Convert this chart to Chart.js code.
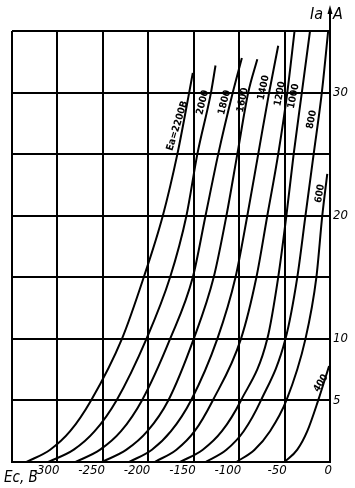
<!DOCTYPE html>
<html>
<head>
<meta charset="utf-8">
<script src="https://cdn.jsdelivr.net/npm/chart.js@4.4.1/dist/chart.umd.min.js"></script>
<style>
  html, body { margin: 0; padding: 0; background: #fff; }
</style>
</head>
<body>
<canvas id="chart" width="355" height="488"></canvas>
<script>
// anode voltage Ea of each curve, В
const anodeVoltages = [2200, 2000, 1800, 1600, 1400, 1200, 1000, 800, 600, 400];

// grid voltage Ec (В) against anode current Ia (А)
const ec2200 = [-334, -308, -286, -263, -229, -205, -184, -168, -155, -151];
const ia2200 = [0, 1, 2.5, 5, 10, 15, 20, 25, 30, 31.6];
const ec2000 = [-310, -282, -259, -235, -202, -176, -158, -146, -131, -126];
const ia2000 = [0, 1, 2.5, 5, 10, 15, 20, 25, 30, 32.2];
const ec1800 = [-280, -253, -230, -207, -176, -151, -137, -123, -107, -97];
const ia1800 = [0, 1, 2.5, 5, 10, 15, 20, 25, 30, 32.8];
const ec1600 = [-251, -224, -201, -178, -150, -128, -114, -102, -90, -80];
const ia1600 = [0, 1, 2.5, 5, 10, 15, 20, 25, 30, 32.7];
const ec1400 = [-221, -196, -175, -153, -124, -104, -91, -79, -67, -57];
const ia1400 = [0, 1, 2.5, 5, 10, 15, 20, 25, 30, 33.8];
const ec1200 = [-193, -169, -149, -129, -98, -81, -69, -57, -47, -39];
const ia1200 = [0, 1, 2.5, 5, 10, 15, 20, 25, 30, 35];
const ec1000 = [-165, -140, -119, -98, -69, -57, -48, -40, -31, -22];
const ia1000 = [0, 1, 2.5, 5, 10, 15, 20, 25, 30, 35];
const ec800 = [-137, -114, -95, -76, -49, -36, -27, -18, -9, -2];
const ia800 = [0, 1, 2.5, 5, 10, 15, 20, 25, 30, 35];
const ec600 = [-103, -83, -66, -48, -27, -15, -8.5, -3];
const ia600 = [0, 1, 2.5, 5, 10, 15, 20, 23.4];
const ec400 = [-50, -36, -25, -13, -1];
const ia400 = [0, 1, 2.5, 5, 7.8];

const ecCurves = [ec2200, ec2000, ec1800, ec1600, ec1400, ec1200, ec1000, ec800, ec600, ec400];
const iaCurves = [ia2200, ia2000, ia1800, ia1600, ia1400, ia1200, ia1000, ia800, ia600, ia400];

const xTickLabels = [-300, -250, -200, -150, -100, -50, 0];
const yTickLabels = [5, 10, 20, 30];

// where each curve's name sits: [Ec, Ia, rotation in degrees]
const labelSpots = [
  [-168, 27.3, 73], [-140, 29.2, 76], [-116, 29.2, 76], [-96, 29.4, 78], [-73, 30.4, 78],
  [-55, 29.9, 79], [-40, 29.7, 79], [-20, 27.8, 79], [-11, 21.8, 80], [-10, 6.4, 58]
];

const tickFont = { family: '"Liberation Sans Narrow", "DejaVu Sans Condensed", sans-serif', size: 13, style: 'italic' };

const datasets = anodeVoltages.map((ea, i) => ({
  label: String(ea),
  data: ecCurves[i].map((ec, j) => ({ x: ec, y: iaCurves[i][j] })),
  borderColor: '#000',
  borderWidth: 2,
  pointRadius: 0,
  fill: false,
  cubicInterpolationMode: 'monotone'
}));

const annotate = {
  id: 'annotate',
  afterDraw(chart) {
    const { ctx, chartArea, scales: { x, y } } = chart;
    ctx.save();
    ctx.fillStyle = '#000';
    ctx.strokeStyle = '#000';

    // curve names
    ctx.font = 'bold 10px "DejaVu Sans Condensed", sans-serif';
    ctx.textAlign = 'center';
    ctx.textBaseline = 'middle';
    anodeVoltages.forEach((ea, i) => {
      const [ec, ia, angle] = labelSpots[i];
      ctx.save();
      ctx.translate(x.getPixelForValue(ec), y.getPixelForValue(ia));
      ctx.rotate(-angle * Math.PI / 180);
      ctx.fillText(i === 0 ? 'Eа=' + ea + 'В' : String(ea), 0, 0);
      ctx.restore();
    });

    // arrow on the current axis
    const ax = chartArea.right;
    ctx.lineWidth = 2;
    ctx.beginPath();
    ctx.moveTo(ax, chartArea.top);
    ctx.lineTo(ax, 12);
    ctx.stroke();
    ctx.beginPath();
    ctx.moveTo(ax, 5);
    ctx.lineTo(ax - 2.5, 14);
    ctx.lineTo(ax + 2.5, 14);
    ctx.closePath();
    ctx.fill();

    // axis names
    ctx.textBaseline = 'alphabetic';
    ctx.font = 'italic 16px "Liberation Sans Narrow", "DejaVu Sans Condensed", sans-serif';
    ctx.textAlign = 'right';
    ctx.fillText('Iа', ax - 7, 19);
    ctx.textAlign = 'left';
    ctx.fillText('А', ax + 3, 19);
    ctx.font = 'italic 15px "Liberation Sans Narrow", "DejaVu Sans Condensed", sans-serif';
    ctx.fillText('Ec, В', 4, 482);
    ctx.restore();
  }
};

new Chart(document.getElementById('chart'), {
  type: 'line',
  data: { datasets },
  options: {
    responsive: false,
    animation: false,
    layout: { padding: { left: 12, top: 31, right: 0, bottom: 0 } },
    plugins: { legend: { display: false }, tooltip: { enabled: false } },
    scales: {
      x: {
        type: 'linear',
        min: -350,
        max: 0,
        afterFit: s => { s.height = 26; },
        grid: { color: '#000', lineWidth: 2, drawTicks: false },
        border: { color: '#000', width: 2 },
        ticks: {
          stepSize: 50, padding: 1, align: 'end', labelOffset: 2, maxRotation: 0, autoSkip: false,
          color: '#000', font: tickFont,
          callback: v => xTickLabels.includes(v) ? String(v) : ''
        }
      },
      y: {
        type: 'linear',
        position: 'right',
        min: 0,
        max: 35,
        afterFit: s => { s.width = 25; },
        grid: { color: '#000', lineWidth: 2, drawTicks: false },
        border: { color: '#000', width: 2 },
        ticks: {
          stepSize: 5, padding: 3, autoSkip: false,
          color: '#000', font: tickFont,
          callback: v => yTickLabels.includes(v) ? String(v) : ''
        }
      }
    }
  },
  plugins: [annotate]
});
</script>
</body>
</html>
